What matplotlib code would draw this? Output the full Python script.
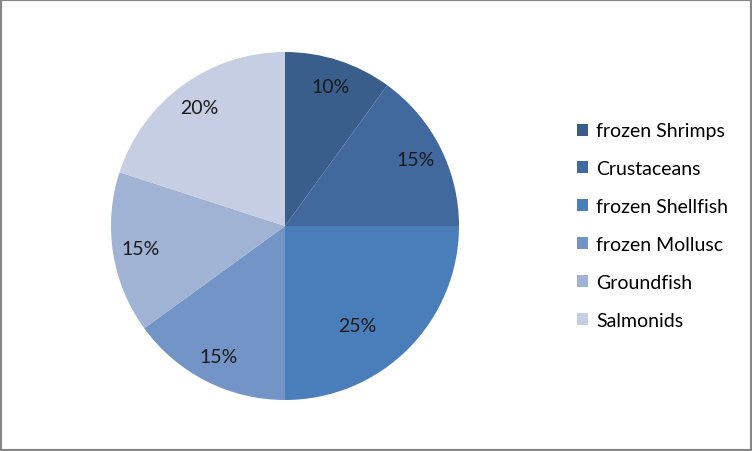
import matplotlib
matplotlib.use("Agg")
import matplotlib.pyplot as plt
import matplotlib.patches as patches
import numpy as np

# Data
categories = ['frozen Shrimps', 'Crustaceans', 'frozen Shellfish',
              'frozen Mollusc', 'Groundfish', 'Salmonids']
shares = [10, 15, 25, 15, 15, 20]
colors = ['#3A5E8C', '#41699E', '#4A7EBB', '#7394C6', '#A1B3D4', '#C5CEE2']

plt.rcParams['font.family'] = ['Lato', 'DejaVu Sans']

fig = plt.figure(figsize=(7.52, 4.52), dpi=100)
ax = fig.add_axes([111 / 752, 51 / 452, 348 / 752, 348 / 452])

wedges, texts, autotexts = ax.pie(
    shares, colors=colors, startangle=90, counterclock=False,
    autopct='%d%%', pctdistance=0.84, radius=1.0,
    textprops=dict(fontsize=14, color='#1a1a1a'),
    wedgeprops=dict(linewidth=0))

# Excel puts the large slice's label a little further in
ang = np.deg2rad(-54)
autotexts[2].set_position((0.71 * np.cos(ang), 0.71 * np.sin(ang)))

ax.set_xlim(-1, 1)
ax.set_ylim(-1, 1)
ax.set_aspect('equal')

fig.legend(wedges, categories, loc='upper left',
           bbox_to_anchor=(577 / 752, 1 - 123.5 / 452),
           frameon=False, fontsize=14, handlelength=0.58, handleheight=0.58,
           handletextpad=0.4, labelspacing=1.07, borderpad=0, borderaxespad=0)

# grey outer border
fig.patches.append(patches.Rectangle((0, 0), 1, 1, transform=fig.transFigure,
                                     fill=False, edgecolor='#868686', linewidth=3))

fig.savefig('out.png', dpi=100)
